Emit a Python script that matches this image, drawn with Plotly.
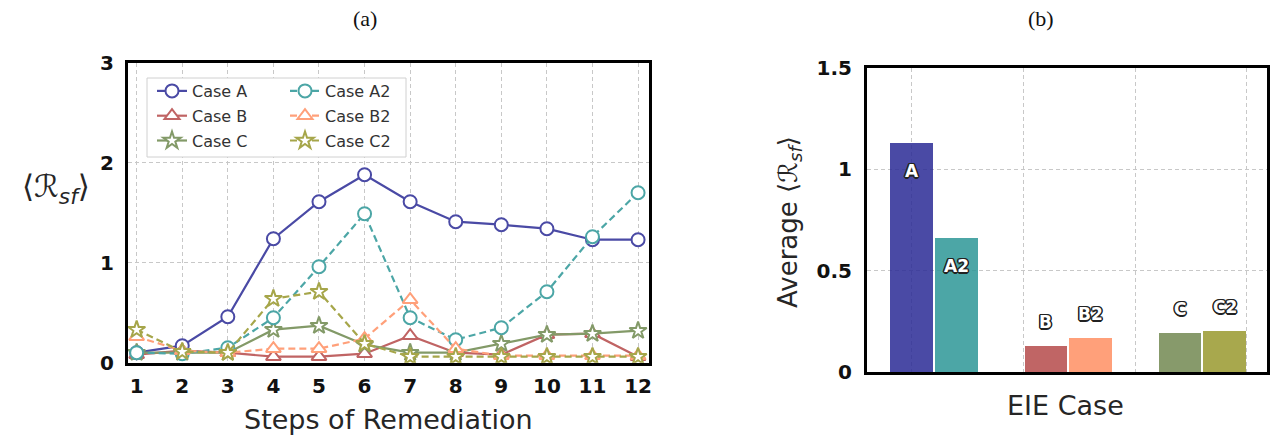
import plotly.graph_objects as go

# ---------------- data ----------------
steps = [1, 2, 3, 4, 5, 6, 7, 8, 9, 10, 11, 12]
case_a = [0.10, 0.17, 0.46, 1.24, 1.61, 1.88, 1.61, 1.41, 1.38, 1.34, 1.23, 1.23]
case_b = [0.08, 0.12, 0.10, 0.06, 0.06, 0.09, 0.27, 0.10, 0.08, 0.28, 0.29, 0.06]
case_c = [0.10, 0.10, 0.10, 0.33, 0.37, 0.18, 0.10, 0.10, 0.19, 0.28, 0.29, 0.32]
case_a2 = [0.10, 0.09, 0.15, 0.45, 0.96, 1.49, 0.45, 0.23, 0.35, 0.71, 1.26, 1.70]
case_b2 = [0.26, 0.12, 0.10, 0.14, 0.14, 0.24, 0.63, 0.14, 0.07, 0.07, 0.07, 0.07]
case_c2 = [0.33, 0.11, 0.10, 0.64, 0.71, 0.19, 0.06, 0.06, 0.06, 0.06, 0.06, 0.06]

bar_labels = ["A", "A2", "B", "B2", "C", "C2"]
bar_pos = [0.0, 0.4, 1.2, 1.6, 2.4, 2.8]
bar_vals = [1.13, 0.66, 0.13, 0.17, 0.19, 0.20]

# ---------------- styling ----------------
W, H = 1275, 445
col = {
    "A": "#4a4aa5", "A2": "#4ca6a6", "B": "#c06464",
    "B2": "#ffa07a", "C": "#839a68", "C2": "#a6a64a",
}
bar_fill = ["#2a2a95", "#2d9696", "#b54a4a", "#ff8f63", "#728851", "#99992e"]
grid_c = "#c8c8c8"
txt_c = "#262626"


def px(x):
    return x / W


def py(y):
    return (H - y) / H


fig = go.Figure()

series = [
    ("Case A", case_a, "A", "circle", "solid", "legend"),
    ("Case B", case_b, "B", "triangle-up", "solid", "legend"),
    ("Case C", case_c, "C", "star", "solid", "legend"),
    ("Case A2", case_a2, "A2", "circle", "7px,4px", "legend2"),
    ("Case B2", case_b2, "B2", "triangle-up", "7px,4px", "legend2"),
    ("Case C2", case_c2, "C2", "star", "7px,4px", "legend2"),
]
for name, vals, key, sym, dash, leg in series:
    fig.add_trace(go.Scatter(
        x=steps, y=vals, name=name, mode="lines+markers",
        line=dict(color=col[key], width=2.2, dash=dash),
        marker=dict(symbol=sym, size=13, color="white",
                    line=dict(color=col[key], width=2)),
        xaxis="x", yaxis="y", legend=leg, legendgroup=name,
    ))

fig.add_trace(go.Bar(
    x=bar_pos, y=bar_vals, width=0.38,
    marker=dict(color=bar_fill, opacity=0.85, line=dict(width=0)),
    xaxis="x2", yaxis="y2", showlegend=False,
))

# bar labels (white text with dark outline)
outline = ("-1px -1px 0 #222, 1px -1px 0 #222, -1px 1px 0 #222, 1px 1px 0 #222, "
           "0 -1.5px 0 #222, 0 1.5px 0 #222, -1.5px 0 0 #222, 1.5px 0 0 #222")
annotations = []
for lab, xp, v in zip(bar_labels, bar_pos, bar_vals):
    inside = v > 0.5
    annotations.append(dict(
        x=xp, y=v, xref="x2", yref="y2", text=lab, showarrow=False,
        yshift=-28 if inside else 24, xanchor="center", yanchor="middle",
        font=dict(family="DejaVu Sans", size=17, color="white", weight="bold",
                  shadow=outline),
    ))


def label(x, y, text, size, family="DejaVu Sans", color=txt_c, angle=0):
    return dict(x=px(x), y=py(y), xref="paper", yref="paper", text=text,
                showarrow=False, xanchor="center", yanchor="middle",
                textangle=angle, font=dict(family=family, size=size, color=color))


annotations += [
    label(365, 18, "(a)", 22, family="Liberation Serif", color="#111"),
    label(1041, 18, "(b)", 22, family="Liberation Serif", color="#111"),
    label(388, 419, "Steps of Remediation", 27),
    label(1065, 405, "EIE Case", 27),
    label(56, 189, "⟨<i>ℛ</i><sub><i>sf</i></sub>⟩", 31),
    label(790, 222, "Average ⟨<i>ℛ</i><sub><i>sf</i></sub>⟩", 26, angle=-90),
]

tickfont = dict(family="DejaVu Sans", size=20, color="#111", weight="bold")
axis_common = dict(
    showline=True, linecolor="black", linewidth=3, mirror=True,
    showgrid=True, gridcolor=grid_c, gridwidth=1, griddash="4px,3px",
    zeroline=False, ticks="", tickfont=tickfont, automargin=False,
)

fig.update_layout(
    width=W, height=H,
    margin=dict(l=0, r=0, t=0, b=0, autoexpand=False),
    paper_bgcolor="white", plot_bgcolor="white",
    xaxis=dict(domain=[px(128), px(649)], range=[0.81, 12.24],
               tickmode="array", tickvals=steps, ticklabelstandoff=3,
               anchor="y", **axis_common),
    yaxis=dict(domain=[py(362.7), py(62.7)], range=[0, 3],
               tickmode="array", tickvals=[0, 1, 2, 3], ticklabelstandoff=7,
               anchor="x", **axis_common),
    xaxis2=dict(domain=[px(867), px(1267)], range=[-0.40, 3.18],
                tickmode="array", tickvals=[0, 1, 2, 3], showticklabels=False,
                anchor="y2", **axis_common),
    yaxis2=dict(domain=[py(372), py(68)], range=[0, 1.5],
                tickmode="array", tickvals=[0, 0.5, 1, 1.5],
                ticktext=["0", "0.5", "1", "1.5"], ticklabelstandoff=8,
                anchor="x2", **axis_common),
    legend=dict(x=px(152), y=py(74), xanchor="left", yanchor="top",
                bgcolor="rgba(0,0,0,0)", borderwidth=0,
                font=dict(family="DejaVu Sans", size=16, color="#333"),
                traceorder="grouped", tracegroupgap=1, itemwidth=30),
    legend2=dict(x=px(285), y=py(74), xanchor="left", yanchor="top",
                 bgcolor="rgba(0,0,0,0)", borderwidth=0,
                 font=dict(family="DejaVu Sans", size=16, color="#333"),
                 traceorder="grouped", tracegroupgap=1, itemwidth=30),
    shapes=[dict(type="rect", xref="paper", yref="paper",
                 x0=px(147), x1=px(406), y0=py(157), y1=py(78),
                 line=dict(color="#d0d0d0", width=1), fillcolor="white",
                 layer="above")],
    annotations=annotations,
    bargap=0,
)

fig.write_html("out.html")
